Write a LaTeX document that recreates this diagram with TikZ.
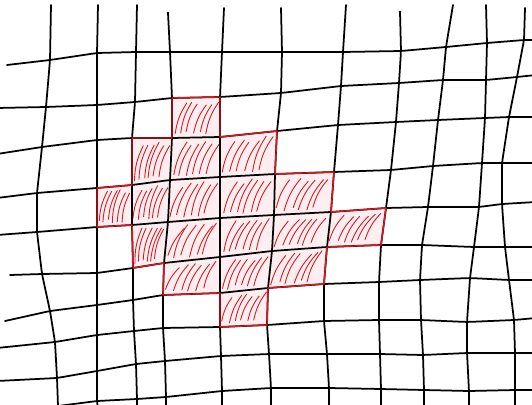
\documentclass[tikz,border=0pt]{standalone}
\usetikzlibrary{calc}
\definecolor{hatchred}{RGB}{212,28,38}
\definecolor{edgered}{RGB}{222,22,30}
\definecolor{fillpink}{RGB}{254,238,240}
\tikzset{
  gridline/.style={line width=1.75pt, black, line cap=round, line join=round, rounded corners=4pt},
  hatchstroke/.style={line width=0.9pt, hatchred, line cap=round},
  regionedge/.style={line width=1.4pt, edgered, line join=round},
  regionfill/.style={fill=fillpink, draw=none},
}
\begin{document}
\begin{tikzpicture}[x=1pt,y=-1pt]
\useasboundingbox (0,0) rectangle (532,404);
\fill[white] (0,0) rectangle (532,404);
\clip (0,0) rectangle (532,404);
% x of vertical line Vi at horizontal line Hj : index i*10+j
\def\xarr{{50,46,42,37,37,42,50,55,57,58,
97,97,97,97,97,97,97,97,97,97,
136,135,132,132,132,133,133,134,136,137,
170,172,172,170,168,164,163,163,165,166,
222,220,220,220,220,220,220,220,221,222,
282,281,277,275,274,272,268,267,269,271,
343,341,338,334,331,327,324,324,327,329,
401,399,396,391,386,381,379,379,380,381,
446,443,438,433,428,422,420,421,423,424,
487,486,485,482,479,474,470,467,467,469,
524,517,509,502,502,505,509,514,515,515}}
% y of horizontal line Hj at vertical line Vi : index j*11+i
\def\yarr{{60,53,52,52,52,52,52,51,47,43,40,
107,105,102,98,97,93,86,83,80,80,77,
147,140,138,138,137,131,125,122,120,118,117,
193,188,185,180,177,174,172,170,166,163,163,
232,227,225,222,218,215,212,208,207,207,204,
274,273,268,263,257,251,247,245,245,247,247,
311,305,300,295,293,288,284,282,280,278,280,
342,335,331,328,327,325,321,320,320,322,320,
378,371,364,361,356,354,354,354,355,353,353,
406,401,399,397,391,388,388,389,390,391,390}}
\foreach \i in {0,...,10}{\foreach \j in {0,...,9}{
  \pgfmathsetmacro\px{\xarr[\i*10+\j]}
  \pgfmathsetmacro\py{\yarr[\j*11+\i]}
  \coordinate (p-\i-\j) at (\px,\py);}}
% free ends of the lines
\foreach \j/\lx/\ly in {0/7/65,1/-3/108,2/-3/154,3/-3/198,4/-3/235,5/10/275,6/5/321,7/-3/348,8/-3/381,9/40/410}
  {\coordinate (l-\j) at (\lx,\ly);}
\foreach \j/\ry in {0/40,1/75,2/117,3/163,4/202,5/247,6/280,7/318,8/353,9/390}
  {\coordinate (r-\j) at (536,\ry);}
\foreach \i/\tx/\ty in {0/51/5,1/98/5,2/137/5,3/168/13,4/224/8,5/281/8,6/346/5,7/400/12,8/453/5,9/486/5,10/525/8}
  {\coordinate (t-\i) at (\tx,\ty);}
\foreach \i/\bx in {0/58,1/98,2/137,3/166,4/222,5/271,6/329,7/381,8/424,9/469,10/515}
  {\coordinate (b-\i) at (\bx,410);}
% red region fill
\fill[regionfill] (p-3-1) -- (p-4-1) -- (p-4-2) -- (p-5-2) -- (p-5-3) -- (p-6-3) -- (p-6-4) -- (p-7-4) -- (p-7-5) -- (p-6-5) -- (p-6-6) -- (p-5-6) -- (p-5-7) -- (p-4-7) -- (p-4-6) -- (p-3-6) -- (p-3-5) -- (p-2-5) -- (p-2-4) -- (p-1-4) -- (p-1-3) -- (p-2-3) -- (p-2-2) -- (p-3-2) -- cycle;
% hatching
\pgfmathsetseed{11}
\foreach \i/\j [evaluate=\i as \ii using int(\i+1), evaluate=\j as \jj using int(\j+1)] in
  {3/1, 2/2,3/2,4/2, 1/3,2/3,3/3,4/3,5/3, 2/4,3/4,4/4,5/4,6/4, 3/5,4/5,5/5, 4/6}{
  \foreach \u in {0.05,0.18,0.31,0.44,0.57,0.70}{
    \pgfmathsetmacro\ua{\u+0.025*rand}
    \pgfmathsetmacro\ub{\ua+0.24+0.03*rand}
    \pgfmathsetmacro\va{0.87+0.05*rand}
    \pgfmathsetmacro\vb{0.15+0.06*rand}
    \coordinate (ht1) at ($(p-\i-\j)!\ua!(p-\ii-\j)$);
    \coordinate (hb1) at ($(p-\i-\jj)!\ua!(p-\ii-\jj)$);
    \coordinate (ht2) at ($(p-\i-\j)!\ub!(p-\ii-\j)$);
    \coordinate (hb2) at ($(p-\i-\jj)!\ub!(p-\ii-\jj)$);
    \draw[hatchstroke] ($(ht1)!\va!(hb1)$) to[bend left=12] ($(ht2)!\vb!(hb2)$);
  }
}
% horizontal lines
\foreach \j in {0,...,9}{
  \draw[gridline] (l-\j) \foreach \i in {0,...,10}{ -- (p-\i-\j)} -- (r-\j);
}
% vertical lines
\foreach \i in {0,...,10}{
  \draw[gridline] (t-\i) \foreach \j in {0,...,9}{ -- (p-\i-\j)} -- (b-\i);
}
% small pen marks at the tops
\fill (t-3) circle (1.4pt);
\fill (t-7) circle (1.4pt);
% red outline of the region
\draw[regionedge] (p-3-1) -- (p-4-1) -- (p-4-2) -- (p-5-2) -- (p-5-3) -- (p-6-3) -- (p-6-4) -- (p-7-4) -- (p-7-5) -- (p-6-5) -- (p-6-6) -- (p-5-6) -- (p-5-7) -- (p-4-7) -- (p-4-6) -- (p-3-6) -- (p-3-5) -- (p-2-5) -- (p-2-4) -- (p-1-4) -- (p-1-3) -- (p-2-3) -- (p-2-2) -- (p-3-2) -- cycle;
\end{tikzpicture}
\end{document}
